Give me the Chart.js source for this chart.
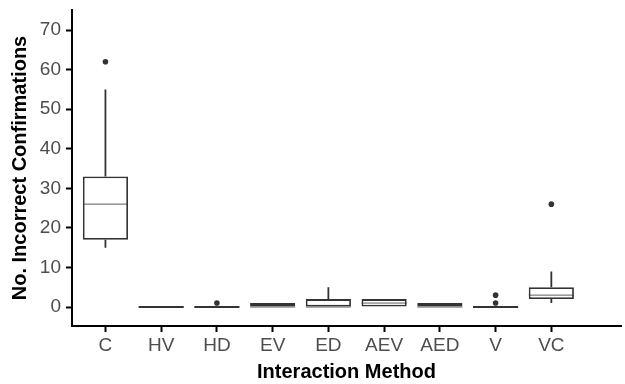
<!DOCTYPE html>
<html>
<head>
<meta charset="utf-8">
<script src="https://cdn.jsdelivr.net/npm/chart.js@4"></script>
<style>
  html, body { margin: 0; padding: 0; background: #fff; }
  canvas { display: block; }
</style>
</head>
<body>
<canvas id="myChart" width="625" height="384"></canvas>
<script>
var methods = ['C', 'HV', 'HD', 'EV', 'ED', 'AEV', 'AED', 'V', 'VC'];
var lower   = [15, 0, 0, 0, 0, 0, 0, 0, 1];
var q1      = [17, 0, 0, 0, 0, 0, 0, 0, 2];
var median  = [26, 0, 0, 0, 0, 1, 0, 0, 3];
var q3      = [33, 0, 0, 1, 2, 2, 1, 0, 5];
var upper   = [55, 0, 0, 1, 5, 2, 1, 0, 9];
var outlierMethod = ['C', 'HD', 'V', 'V', 'VC'];
var outlierValue  = [62, 1, 1, 3, 26];
var yTicks = [0, 10, 20, 30, 40, 50, 60, 70];

var ink = '#333333';

var boxes = methods.map(function (m, i) {
  return { x: i + 1, y: [q1[i], q3[i]] };
});
var outliers = outlierMethod.map(function (m, i) {
  return { x: methods.indexOf(m) + 1, y: outlierValue[i] };
});

// whiskers and medians, placed from the bar elements and the y scale
var boxExtras = {
  id: 'boxExtras',
  afterDatasetsDraw: function (chart) {
    var ctx = chart.ctx;
    var y = chart.scales.y;
    var meta = chart.getDatasetMeta(0);
    ctx.save();
    ctx.strokeStyle = ink;
    meta.data.forEach(function (bar, i) {
      var half = bar.width / 2;
      ctx.lineWidth = 1.8;
      ctx.beginPath();
      if (upper[i] > q3[i]) {
        ctx.moveTo(bar.x, y.getPixelForValue(q3[i]));
        ctx.lineTo(bar.x, y.getPixelForValue(upper[i]));
      }
      if (lower[i] < q1[i]) {
        ctx.moveTo(bar.x, y.getPixelForValue(q1[i]));
        ctx.lineTo(bar.x, y.getPixelForValue(lower[i]));
      }
      ctx.stroke();
      ctx.lineWidth = (q1[i] === q3[i]) ? 1.8 : 0.8;
      ctx.beginPath();
      var my = y.getPixelForValue(median[i]);
      ctx.moveTo(bar.x - half, my);
      ctx.lineTo(bar.x + half, my);
      ctx.stroke();
    });
    ctx.restore();
  }
};

var ctx = document.getElementById('myChart').getContext('2d');
var myChart = new Chart(ctx, {
  type: 'bar',
  data: {
    datasets: [{
      type: 'bar',
      data: boxes,
      backgroundColor: '#ffffff',
      borderColor: ink,
      borderWidth: 1.8,
      borderSkipped: false,
      barPercentage: 0.9,
      categoryPercentage: 0.9,
      order: 2
    }, {
      type: 'scatter',
      data: outliers,
      pointRadius: 2.8,
      pointBackgroundColor: ink,
      pointBorderWidth: 0,
      order: 1
    }]
  },
  options: {
    responsive: false,
    animation: false,
    layout: { padding: { top: 10, right: 0, left: 0, bottom: 0 } },
    plugins: {
      legend: { display: false },
      tooltip: { enabled: false }
    },
    scales: {
      x: {
        type: 'linear',
        offset: false,
        min: 0.4,
        max: 10.25,
        afterBuildTicks: function (s) {
          s.ticks = methods.map(function (m, i) { return { value: i + 1 }; });
        },
        afterFit: function (s) {
          s.height = 58;
          s.paddingLeft = 0;
          s.paddingRight = 0;
        },
        ticks: {
          autoSkip: false,
          maxRotation: 0,
          padding: 2,
          color: '#4d4d4d',
          font: { family: 'Liberation Sans, Arial', size: 19 },
          callback: function (v) { return methods[v - 1]; }
        },
        grid: { offset: false, drawOnChartArea: false, drawTicks: true, tickLength: 6, tickColor: '#000', tickWidth: 2 },
        border: { color: '#000', width: 2 },
        title: {
          display: true,
          text: 'Interaction Method',
          color: '#000',
          padding: { top: 0, bottom: 0 },
          font: { family: 'Liberation Sans, Arial', size: 20, weight: 'bold' }
        }
      },
      y: {
        min: -4.8,
        max: 75.06,
        afterBuildTicks: function (s) {
          s.ticks = yTicks.map(function (v) { return { value: v }; });
        },
        afterFit: function (s) {
          s.width = 72;
          s.paddingTop = 0;
          s.paddingBottom = 0;
        },
        ticks: {
          padding: 5,
          color: '#4d4d4d',
          font: { family: 'Liberation Sans, Arial', size: 19 }
        },
        grid: { drawOnChartArea: false, drawTicks: true, tickLength: 6, tickColor: '#000', tickWidth: 2 },
        border: { color: '#000', width: 2 },
        title: {
          display: true,
          text: 'No. Incorrect Confirmations',
          color: '#000',
          padding: { top: 8, bottom: 0 },
          font: { family: 'Liberation Sans, Arial', size: 20, weight: 'bold' }
        }
      }
    }
  },
  plugins: [boxExtras]
});
</script>
</body>
</html>
